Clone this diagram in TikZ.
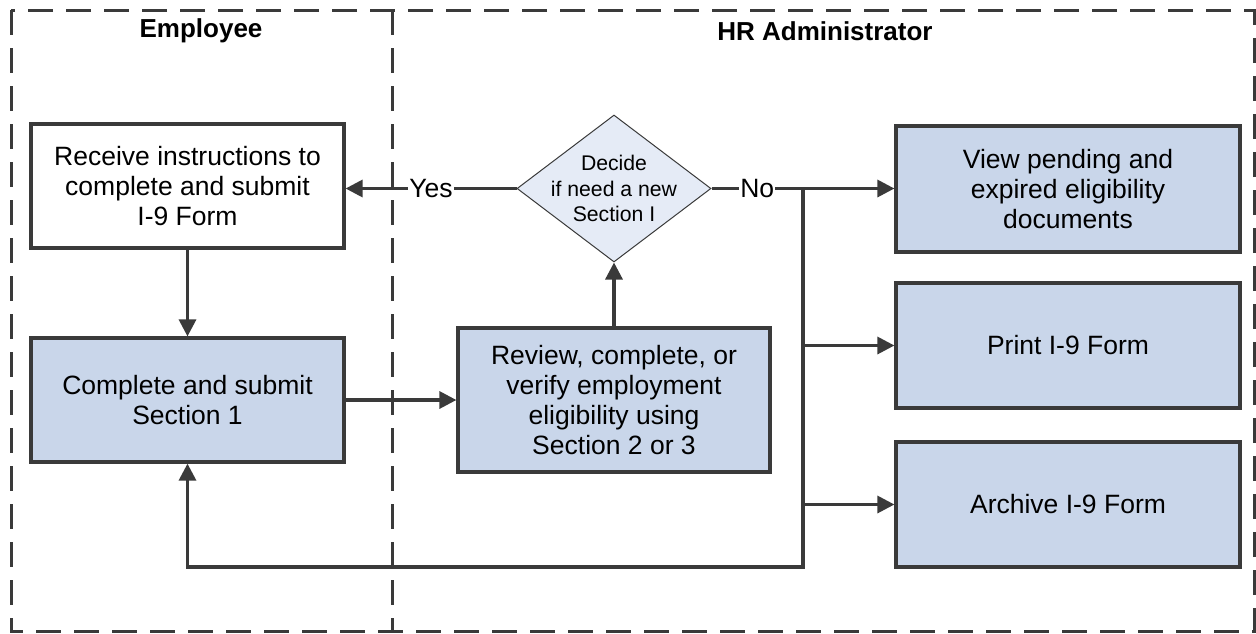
\documentclass[tikz,border=0pt]{standalone}
\usepackage{fontspec}
\setmainfont{Liberation Sans}
\usetikzlibrary{arrows.meta,positioning,shapes.geometric}
\definecolor{taskblue}{RGB}{201,214,234}
\definecolor{decideblue}{RGB}{229,235,246}
\definecolor{linegray}{RGB}{58,58,58}

\begin{document}
\begin{tikzpicture}[x=1pt,y=-1pt,
	task/.style={rectangle, draw=linegray, line width=3.2pt, fill=taskblue, align=center, inner sep=0pt, font=\fontsize{26.5}{30}\selectfont},
	decision/.style={diamond, draw=linegray, line width=1pt, fill=decideblue, aspect=1.32, minimum width=194pt, minimum height=147pt, inner sep=-6pt, align=center, font=\fontsize{21.2}{25.5}\selectfont},
	lane/.style={draw=linegray, line width=3pt, dash pattern=on 25pt off 13pt},
	flow/.style={draw=linegray, line width=3.2pt, -{Triangle[length=17pt,width=17pt]}},
	answer/.style={fill=white, inner sep=1pt, font=\fontsize{26.5}{30}\selectfont},
	lanetitle/.style={font=\fontsize{26}{30}\selectfont\bfseries}]
		\useasboundingbox (0,0) rectangle (1256,633);

		% swim lanes
		\draw[lane] (11,10) rectangle (1254,631);
		\draw[lane] (392,10) -- (392,631);
		\node[lanetitle] (emptitle) at (201,31) {Employee};
		\node[lanetitle] (hrtitle) at (825,31) {HR Administrator};

		% steps
		\node[task, fill=white, minimum width=313pt, minimum height=124pt] (recv) at (187.5,186) {Receive instructions to\\complete and submit\\I-9 Form};
		\node[task, minimum width=313pt, minimum height=124pt] (sub) at (187.5,400) {Complete and submit\\Section 1};
		\node[task, minimum width=312pt, minimum height=144pt] (review) at (614,400) {Review, complete, or\\verify employment\\eligibility using\\Section 2 or 3};
		\node[decision] (decide) at (614,188.5) {Decide\\if need a new\\Section I};
		\node[task, minimum width=344pt, minimum height=126pt] (view) at (1068,189) {View pending and\\expired eligibility\\documents};
		\node[task, minimum width=344pt, minimum height=125pt] (print) at (1068,345.5) {Print I-9 Form};
		\node[task, minimum width=344pt, minimum height=125pt] (archive) at (1068,504.5) {Archive I-9 Form};

		\coordinate (split) at (803,188.5);
		\coordinate (corner) at (803,567);

		% connectors
		\draw[flow] (recv) -- (sub);
		\draw[flow] (sub) -- (review);
		\draw[flow] (review) -- (decide);
		\draw[flow] (decide.west) -- node[answer] {Yes} (decide.west -| recv.east);
		\draw[flow] (decide.east) -- node[answer, pos=0.25] {No} (decide.east -| view.west);
		\draw[flow] (split) -- (corner) -| (sub.south);
		\draw[flow] (split |- print.west) -- (print.west);
		\draw[flow] (split |- archive.west) -- (archive.west);
	\end{tikzpicture}
\end{document}
